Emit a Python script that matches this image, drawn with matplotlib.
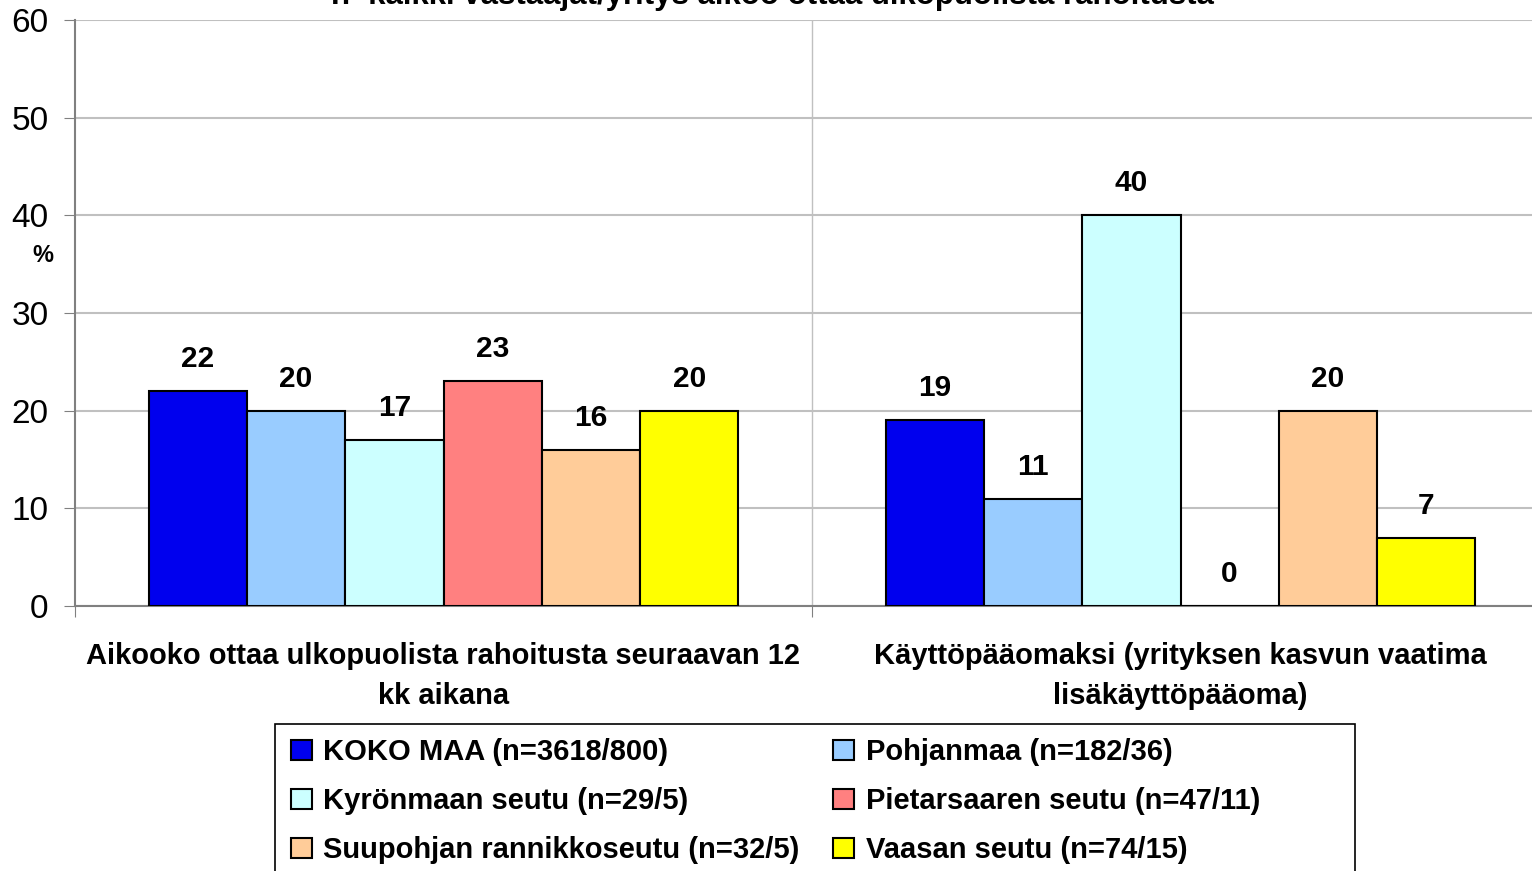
import matplotlib.pyplot as plt
import matplotlib.patches as mpatches
import numpy as np

plt.rcParams['font.family'] = ['Liberation Sans', 'DejaVu Sans']

categories = ['Aikooko ottaa ulkopuolista rahoitusta seuraavan 12\nkk aikana',
              'Käyttöpääomaksi (yrityksen kasvun vaatima\nlisäkäyttöpääoma)']
series = ['KOKO MAA (n=3618/800)', 'Pohjanmaa (n=182/36)',
          'Kyrönmaan seutu (n=29/5)', 'Pietarsaaren seutu (n=47/11)',
          'Suupohjan rannikkoseutu (n=32/5)', 'Vaasan seutu (n=74/15)']
values = [
    [22, 19],
    [20, 11],
    [17, 40],
    [23, 0],
    [16, 20],
    [20, 7],
]
colors = ['#0000ee', '#99ccff', '#ccffff', '#ff8080', '#ffcc99', '#ffff00']
title = 'n=kaikki vastaajat/yritys aikoo ottaa ulkopuolista rahoitusta'

fig = plt.figure(figsize=(15.32, 8.71), dpi=100)
ax = fig.add_axes([75/1532, 265/871, 1474/1532, 586/871])

x = np.arange(len(categories))
w = 0.8 / len(series)
for i, (name, vals, c) in enumerate(zip(series, values, colors)):
    pos = x - 0.4 + w * (i + 0.5)
    ax.bar(pos, vals, w, color=c, edgecolor='black', linewidth=1.5, label=name, zorder=3)
    for p, v in zip(pos, vals):
        ax.annotate(str(v), (p, v), xytext=(0, 23), textcoords='offset points',
                    ha='center', va='center', fontsize=21.5, fontweight='bold')

ax.set_xlim(-0.5, 1.5)
ax.set_ylim(0, 60)
ax.set_yticks(range(0, 61, 10))
ax.tick_params(axis='y', labelsize=24, length=8, direction='out', color='#808080', pad=11)
ax.set_xticks([-0.5, 0.5, 1.5])
ax.set_xticklabels([])
ax.tick_params(axis='x', length=8, direction='out', color='#808080')
ax.set_xticks(x, minor=True)
ax.set_xticklabels(categories, minor=True, fontsize=21, fontweight='bold', linespacing=1.55)
ax.tick_params(axis='x', which='minor', length=0, pad=26)
ax.grid(axis='y', color='#c0c0c0', linewidth=1.5, zorder=0)
ax.axvline(0.5, color='#c0c0c0', linewidth=1, zorder=0)
for s in ['top', 'right']:
    ax.spines[s].set_visible(False)
ax.spines['left'].set_color('#808080')
ax.spines['bottom'].set_color('#808080')
ax.spines['left'].set_linewidth(1.5)
ax.spines['bottom'].set_linewidth(1.5)

fig.text(43/1532, 1 - 255/871, '%', ha='center', va='center', fontsize=17, fontweight='bold')
fig.text(772/1532, 1 - (-4)/871, title, ha='center', va='center', fontsize=22.5, fontweight='bold')

fig.patches.append(mpatches.Rectangle((275/1532, -0.05), 1080/1532, 0.05 + (871-724)/871,
                                      transform=fig.transFigure, facecolor='white',
                                      edgecolor='black', linewidth=1.2))
order = [0, 2, 4, 1, 3, 5]
handles = [mpatches.Patch(facecolor=colors[i], edgecolor='black', linewidth=1.5) for i in order]
labels = [series[i] for i in order]
fig.legend(handles, labels, loc='upper left', bbox_to_anchor=(271/1532, 1 - 718/871),
           ncol=2, frameon=False, prop={'weight': 'bold', 'size': 21},
           handlelength=0.7, handleheight=0.7, handletextpad=0.4,
           labelspacing=0.72, columnspacing=1.15, borderpad=0.2)

fig.savefig('out.png', dpi=100)
